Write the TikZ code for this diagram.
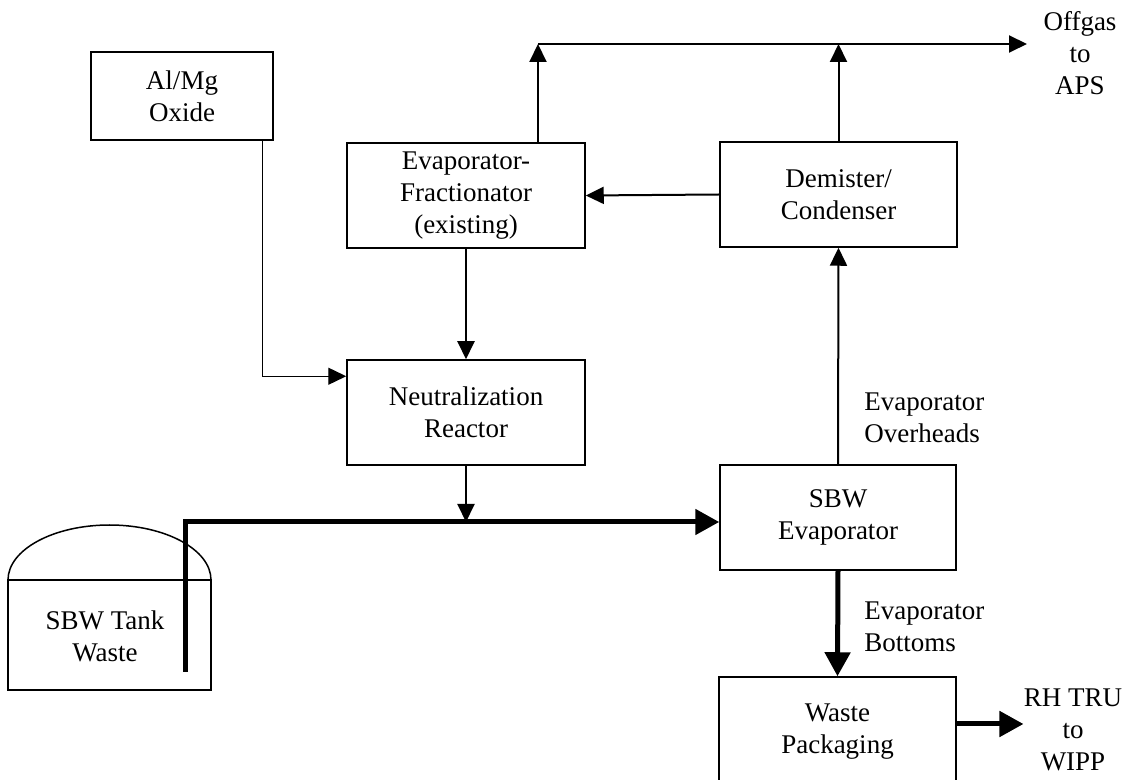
\documentclass[tikz,border=0pt]{standalone}
\usepackage{fontspec}
\setmainfont{Liberation Serif}
\usetikzlibrary{arrows.meta}
\tikzset{%
  unitbox/.style = {shape=rectangle, draw, line width=0.75pt,%
                    align=center, inner sep=0pt,%
                    font=\fontsize{13.5}{16}\selectfont},%
  tag/.style     = {inner sep=0pt, font=\fontsize{13.5}{16}\selectfont},%
  flow/.style    = {line width=1pt, -{Triangle[length=9pt,width=8.5pt]}},%
  feed/.style    = {flow, line width=0.7pt},%
  pipe/.style    = {line width=2.5pt, -{Triangle[length=12pt,width=12.5pt]}}%
}
\begin{document}
\begin{tikzpicture}[x=0.5pt, y=-0.5pt]%
	\useasboundingbox (0,0) rectangle (1126,780);
	\node[unitbox, minimum width=91pt, minimum height=44pt] (alox) at (182,96) {Al/Mg\\Oxide};%
	\node[unitbox, minimum width=119pt, minimum height=52.5pt] (evfr) at (466,195.5) {Evaporator-\\Fractionator\\(existing)};%
	\node[unitbox, minimum width=118.5pt, minimum height=52.5pt] (demi) at (838.5,194.5) {Demister/\\Condenser};%
	\node[unitbox, minimum width=119pt, minimum height=52.5pt] (neut) at (466,412.5) {Neutralization\\Reactor};%
	\node[unitbox, minimum width=118pt, minimum height=52.5pt] (sbwe) at (838,517.5) {SBW\\Evaporator};%
	\node[unitbox, minimum width=118.5pt, minimum height=55pt] (wpkg) at (837.5,732) {Waste\\Packaging};%
	\draw[line width=0.75pt] (8,580) rectangle (211,690);
	\draw[line width=0.75pt] (8,580) arc[start angle=180, end angle=0, x radius=50.75pt, y radius=27.5pt];
	\node[tag, align=center] (tank) at (105,636) {SBW Tank\\Waste};%
	\node[tag, align=center] (offgas) at (1080,53) {Offgas\\to\\APS};%
	\node[tag, align=center] (rhtru) at (1073,730) {RH TRU\\to\\WIPP};%
	\node[tag, align=left, anchor=west] (ovhd) at (864,418) {Evaporator\\Overheads};%
	\node[tag, align=left, anchor=west] (btms) at (864,627) {Evaporator\\Bottoms};%
	\coordinate (pbot) at (185,672);
	\coordinate (ptop) at (185,522);
	\coordinate (og) at (538,44);
	\coordinate (ogend) at (1027,44);
	\draw[pipe] (pbot) -- (ptop) -- (ptop -| sbwe.west);
	\draw[flow] (neut.south) -- (neut.south |- ptop);
	\draw[feed] ([xshift=-5.5pt]alox.south east) |- ([yshift=-8.5pt]neut.north west);
	\draw[flow] (evfr.south) -- (neut.north);
	\draw[flow] (demi.west) -- (evfr.east);
	\draw[flow] (evfr.north -| og) -- (og);
	\draw[flow] (og) -- (ogend);
	\draw[flow] (demi.north) -- (demi.north |- og);
	\draw[flow] (sbwe.north) -- (demi.south);
	\draw[pipe] (sbwe.south) -- (wpkg.north);
	\draw[pipe] ([yshift=4pt]wpkg.east) -- ([yshift=4pt]wpkg.east -| rhtru.west);
\end{tikzpicture}
\end{document}
